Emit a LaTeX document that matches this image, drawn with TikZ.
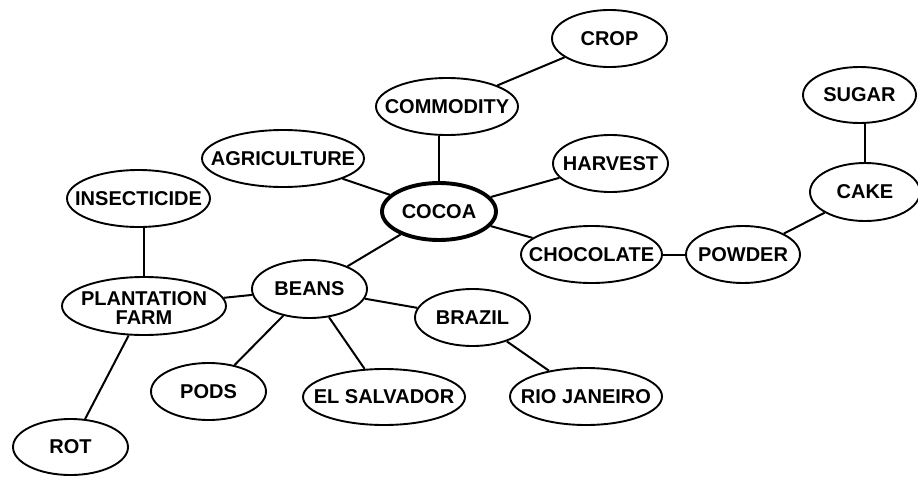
\documentclass[tikz,border=0pt]{standalone}
\usepackage{fontspec}
\setmainfont{Liberation Sans}
\usetikzlibrary{shapes.geometric}
\newcommand{\ctext}[1]{\makebox[0pt][c]{#1}}
\tikzset{
  concept/.style={ellipse, draw=black, line width=1.9pt, inner sep=0pt,
    minimum height=57pt, font=\bfseries\fontsize{20}{18}\selectfont, align=center},
  main/.style={concept, line width=3.9pt},
  link/.style={line width=2pt, black}
}
\begin{document}
\begin{tikzpicture}[x=1pt, y=-1pt]
\useasboundingbox (0,0) rectangle (918,477);
\node[concept, minimum width=115pt] (crop) at (609.5,38.5) {\ctext{CROP}};
\node[concept, minimum width=142pt] (commodity) at (447,106.5) {\ctext{COMMODITY}};
\node[concept, minimum width=162pt] (agriculture) at (283,158.5) {\ctext{AGRICULTURE}};
\node[concept, minimum width=115pt] (harvest) at (610.5,163.5) {\ctext{HARVEST}};
\node[main, minimum width=114pt, minimum height=57pt] (cocoa) at (439,211.5) {\ctext{COCOA}};
\node[concept, minimum width=143pt] (insecticide) at (138.5,198.5) {\ctext{INSECTICIDE}};
\node[concept, minimum width=113pt, minimum height=56pt] (sugar) at (859.5,95) {\ctext{SUGAR}};
\node[concept, minimum width=110pt, minimum height=58pt] (cake) at (865,192) {\ctext{CAKE}};
\node[concept, minimum width=141pt] (chocolate) at (591.5,254.5) {\ctext{CHOCOLATE}};
\node[concept, minimum width=114pt] (powder) at (743,254.5) {\ctext{POWDER}};
\node[concept, minimum width=115pt, minimum height=58pt] (beans) at (309.5,289) {\ctext{BEANS}};
\node[concept, minimum width=164pt, minimum height=58pt, text height=10pt, text depth=12pt] (plantation) at (144,306)
  {\ctext{\begin{tabular}[t]{@{}c@{}}PLANTATION\\FARM\end{tabular}}};
\node[concept, minimum width=115pt] (brazil) at (472.5,317.5) {\ctext{BRAZIL}};
\node[concept, minimum width=115pt] (pods) at (208.5,391.5) {\ctext{PODS}};
\node[concept, minimum width=162pt, minimum height=56pt] (elsalvador) at (384,397) {\ctext{EL SALVADOR}};
\node[concept, minimum width=152pt] (rio) at (586,396.5) {\ctext{RIO JANEIRO}};
\node[concept, minimum width=115pt, minimum height=56pt] (rot) at (70.5,447) {\ctext{ROT}};

\draw[link] (commodity) -- (crop);
\draw[link] (cocoa.north) -- (cocoa.north |- commodity.south);
\draw[link] (cocoa) -- (agriculture);
\draw[link] (cocoa) -- (harvest);
\draw[link] (cocoa) -- (chocolate);
\draw[link] (chocolate.east) -- (powder.west);
\draw[link] (powder) -- (cake);
\draw[link] (cake.north) -- (cake.north |- sugar.south);
\draw[link] (cocoa) -- (beans);
\draw[link] (beans) -- (plantation);
\draw[link] (plantation.north) -- (plantation.north |- insecticide.south);
\draw[link] (plantation) -- (rot);
\draw[link] (beans) -- (pods);
\draw[link] (beans) -- (elsalvador);
\draw[link] (beans) -- (brazil);
\draw[link] (brazil) -- (rio);
\end{tikzpicture}
\end{document}
